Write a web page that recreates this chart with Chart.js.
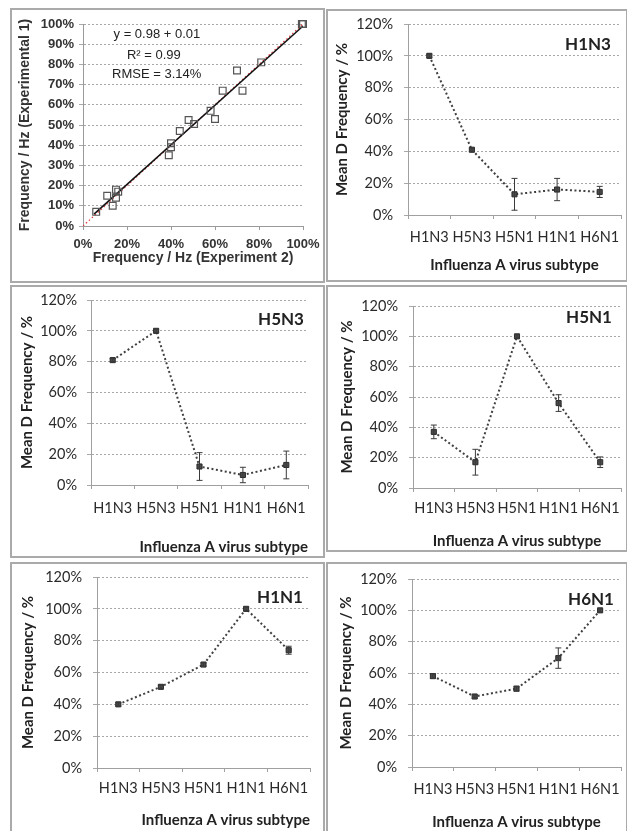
<!DOCTYPE html>
<html>
<head>
<meta charset="utf-8">
<script src="https://cdn.jsdelivr.net/npm/chart.js@4.4.1/dist/chart.umd.min.js"></script>
<style>
  html, body { margin: 0; padding: 0; background: #fff; width: 627px; height: 831px; overflow: hidden; }
  .panel { position: absolute; box-sizing: border-box; border: 2px solid #aaaaaa; background: #fff; }
  .panel canvas { position: absolute; left: 0; top: 0; }
</style>
</head>
<body>
<div class="panel" style="left:10px;top:8px;width:315px;height:275px"><canvas id="c1" width="311" height="271"></canvas></div>
<div class="panel" style="left:326px;top:9px;width:302px;height:273px"><canvas id="c2" width="298" height="269"></canvas></div>
<div class="panel" style="left:10px;top:285px;width:315px;height:273px"><canvas id="c3" width="311" height="269"></canvas></div>
<div class="panel" style="left:326px;top:285px;width:302px;height:267px"><canvas id="c4" width="298" height="263"></canvas></div>
<div class="panel" style="left:10px;top:562px;width:315px;height:280px"><canvas id="c5" width="311" height="267"></canvas></div>
<div class="panel" style="left:326px;top:562px;width:302px;height:280px"><canvas id="c6" width="298" height="267"></canvas></div>

<script>
// ---- data ----
const subtypes = ['H1N3', 'H5N3', 'H5N1', 'H1N1', 'H6N1'];

// experiment 2 (x) vs experiment 1 (y), percent
const exp2Freq = [6, 11, 13.5, 15, 15, 16, 39, 40, 40, 44, 48, 50.5, 58, 60, 63.5, 70, 72.5, 81, 99.5, 100];
const exp1Freq = [7, 15, 10, 14, 18, 17, 35, 39, 41, 47, 52.5, 50.5, 57, 53, 67, 77, 67, 81, 100, 100];
const fitSlope = 0.98;
const fitIntercept = 1; // percent
const fitRange = [5, 100];

// mean D frequency per subtype (percent) and error half-widths
const meanH1N3 = [100, 41, 13, 16, 14.5];
const errH1N3  = [1, 1, 10, 7, 3.5];
const meanH5N3 = [81, 100, 12, 6.5, 13];
const errH5N3  = [1, 1, 9, 5, 9];
const meanH5N1 = [37, 17, 100, 56, 17];
const errH5N1  = [4.5, 8.5, 1, 5.5, 3.5];
const meanH1N1 = [40, 51, 65, 100, 74];
const errH1N1  = [1, 1, 1, 1, 2.5];
const meanH6N1 = [58, 45, 50, 69.5, 100];
const errH6N1  = [1.5, 1, 1.5, 6.5, 1];

const pctTicks = v => v + '%';

// ---- plugins ----
const errorBars = {
  id: 'errorBars',
  afterDatasetsDraw(chart, args, opts) {
    if (!opts.errors) return;
    const ctx = chart.ctx;
    const xs = chart.scales.x, ys = chart.scales.y;
    const ds = chart.data.datasets[0].data;
    ctx.save();
    ctx.strokeStyle = '#3a3a3a';
    ctx.lineWidth = 1;
    ds.forEach((v, i) => {
      const e = opts.errors[i];
      const x = xs.getPixelForValue(i);
      const yTop = ys.getPixelForValue(v + e);
      const yBot = ys.getPixelForValue(v - e);
      ctx.beginPath();
      ctx.moveTo(x, yTop); ctx.lineTo(x, yBot);
      ctx.moveTo(x - 3, yTop); ctx.lineTo(x + 3, yTop);
      ctx.moveTo(x - 3, yBot); ctx.lineTo(x + 3, yBot);
      ctx.stroke();
    });
    ctx.restore();
  }
};

const panelText = {
  id: 'panelText',
  afterDraw(chart, args, opts) {
    if (!opts.items) return;
    const ctx = chart.ctx;
    ctx.save();
    opts.items.forEach(it => {
      let x = it.x, y = it.y;
      if (it.data) {
        x = chart.scales.x.getPixelForValue(it.x);
        y = chart.scales.y.getPixelForValue(it.y);
      }
      ctx.font = it.font;
      ctx.fillStyle = it.color || '#222';
      ctx.textAlign = it.align || 'center';
      ctx.textBaseline = 'middle';
      ctx.fillText(it.text, x, y);
    });
    ctx.restore();
  }
};

// ---- scatter panel ----
(function () {
  const pts = exp2Freq.map((x, i) => ({ x, y: exp1Freq[i] }));
  const fit = fitRange.map(x => ({ x, y: fitSlope * x + fitIntercept }));
  const identity = [{ x: 0, y: 0 }, { x: 100, y: 100 }];
  const tickFont = { family: '"Liberation Sans", Arial, sans-serif', size: 13, weight: 'bold' };
  const axisTitleFont = { family: '"Liberation Sans", Arial, sans-serif', size: 14, weight: 'bold' };
  const noteFont = '13px "Liberation Sans", Arial, sans-serif';
  new Chart(document.getElementById('c1'), {
    type: 'scatter',
    data: {
      datasets: [
        { data: pts, pointStyle: 'rect', pointRadius: 4.8, borderColor: '#555', borderWidth: 1.2, backgroundColor: 'rgba(255,255,255,0)', clip: 8 },
        { type: 'line', data: fit, borderColor: '#111', borderWidth: 1.5, pointRadius: 0, fill: false },
        { type: 'line', data: identity, borderColor: '#e03030', borderWidth: 1.2, borderDash: [1.5, 2.5], pointRadius: 0, fill: false }
      ]
    },
    options: {
      responsive: false, animation: false, events: [],
      layout: { padding: { left: 0, top: 14, right: 20, bottom: 0 } },
      plugins: {
        legend: { display: false }, tooltip: { enabled: false },
        panelText: { items: [
          { text: 'y = 0.98 + 0.01', x: 33.6, y: 94.6, data: true, font: noteFont, color: '#222' },
          { text: 'R\u00B2 = 0.99', x: 32.2, y: 84.2, data: true, font: noteFont, color: '#222' },
          { text: 'RMSE = 3.14%', x: 33.5, y: 74.8, data: true, font: noteFont, color: '#222' }
        ] }
      },
      scales: {
        x: {
          type: 'linear', min: 0, max: 100,
          afterFit: s => { s.height = 55; s.paddingLeft = 0; s.paddingRight = 0; },
          ticks: { stepSize: 20, callback: pctTicks, color: '#333', font: tickFont, padding: 7, maxRotation: 0 },
          grid: { drawOnChartArea: false, drawTicks: true, tickLength: 4, color: '#9a9a9a' },
          border: { color: '#9a9a9a', width: 1 },
          title: { display: true, text: 'Frequency / Hz (Experiment 2)', color: '#333', font: axisTitleFont, padding: { top: 0, bottom: 14.6 } }
        },
        y: {
          type: 'linear', min: 0, max: 100,
          afterFit: s => { s.width = 71; s.paddingTop = 0; s.paddingBottom = 0; },
          ticks: { stepSize: 10, callback: pctTicks, color: '#333', font: tickFont, padding: 5 },
          grid: { drawTicks: true, tickLength: 4, color: '#a8a8a8' },
          border: { color: '#9a9a9a', width: 1, dash: [2, 2] },
          title: { display: true, text: 'Frequency / Hz (Experimental 1)', color: '#333', font: axisTitleFont, padding: { top: 4.6, bottom: 0 } }
        }
      }
    },
    plugins: [panelText]
  });
})();

// ---- subtype panels ----
function subtypePanel(id, name, values, errors, g) {
  const tickFont = { family: 'Lato, "Open Sans", sans-serif', size: 14.5 };
  const titleFont = { family: 'Lato, "Open Sans", sans-serif', size: 15, weight: 'bold' };
  new Chart(document.getElementById(id), {
    type: 'line',
    data: {
      labels: subtypes,
      datasets: [{
        data: values,
        borderColor: '#404040', borderWidth: 2, borderDash: [2, 2.5],
        pointStyle: 'rect', pointRadius: 3.6, pointBackgroundColor: '#4a4a4a', pointBorderColor: '#2a2a2a', pointBorderWidth: 1,
        fill: false, tension: 0, clip: 6
      }]
    },
    options: {
      responsive: false, animation: false, events: [],
      layout: { padding: { left: 0, top: g.top, right: g.right, bottom: 0 } },
      plugins: {
        legend: { display: false }, tooltip: { enabled: false },
        errorBars: { errors },
        panelText: { items: [
          { text: name, x: g.label[0], y: g.label[1], font: 'bold 17px Lato, "Open Sans", sans-serif', color: '#222' }
        ] }
      },
      scales: {
        x: {
          type: 'category', offset: true,
          afterFit: s => { s.height = g.xh; s.paddingLeft = 0; s.paddingRight = 0; },
          ticks: { color: '#2a2a2a', font: tickFont, padding: g.xpad - 0.3, maxRotation: 0, autoSkip: false },
          grid: { offset: true, drawOnChartArea: false, drawTicks: true, tickLength: 4, color: '#a0a0a0' },
          border: { color: '#a0a0a0', width: 1 },
          title: { display: true, text: 'Influenza A virus subtype', align: g.titleAlign, color: '#222', font: titleFont, padding: { top: 0, bottom: Math.max(0, g.xtitle - 0.6) } }
        },
        y: {
          type: 'linear', min: 0, max: 120,
          afterFit: s => { s.width = g.yw; s.paddingTop = 0; s.paddingBottom = 0; },
          ticks: { stepSize: 20, callback: pctTicks, color: '#2a2a2a', font: tickFont, padding: g.ypad },
          grid: { drawTicks: true, tickLength: 4, color: '#a8a8a8' },
          border: { color: '#a0a0a0', width: 1, dash: [2, 2] },
          title: { display: true, text: 'Mean D Frequency / %', color: '#222', font: titleFont, padding: { top: g.ytitle - 0.6, bottom: 0 } }
        }
      }
    },
    plugins: [errorBars, panelText]
  });
}

subtypePanel('c2', 'H1N3', meanH1N3, errH1N3, { yw: 80, top: 13, right: 1, xh: 65, xpad: 9.6, xtitle: 6, ytitle: 5.6, ypad: 11, titleAlign: 'center', label: [260, 34] });
subtypePanel('c3', 'H5N3', meanH5N3, errH5N3, { yw: 79, top: 13, right: 15, xh: 71, xpad: 10.6, xtitle: 0, ytitle: 6.6, ypad: 10, titleAlign: 'end', label: [269, 33] });
subtypePanel('c4', 'H5N1', meanH5N1, errH5N1, { yw: 85, top: 19, right: 0, xh: 62, xpad: 7.6, xtitle: 0, ytitle: 10.6, ypad: 11, titleAlign: 'center', label: [261, 31] });
subtypePanel('c5', 'H1N1', meanH1N1, errH1N1, { yw: 85, top: 13, right: 13, xh: 63, xpad: 7.6, xtitle: 2.6, ytitle: 7.6, ypad: 11, titleAlign: 'end', label: [268, 34] });
subtypePanel('c6', 'H6N1', meanH6N1, errH6N1, { yw: 84, top: 15, right: 4, xh: 64, xpad: 9.6, xtitle: 0.6, ytitle: 9.6, ypad: 11, titleAlign: 'center', label: [263, 36] });
</script>
</body>
</html>
